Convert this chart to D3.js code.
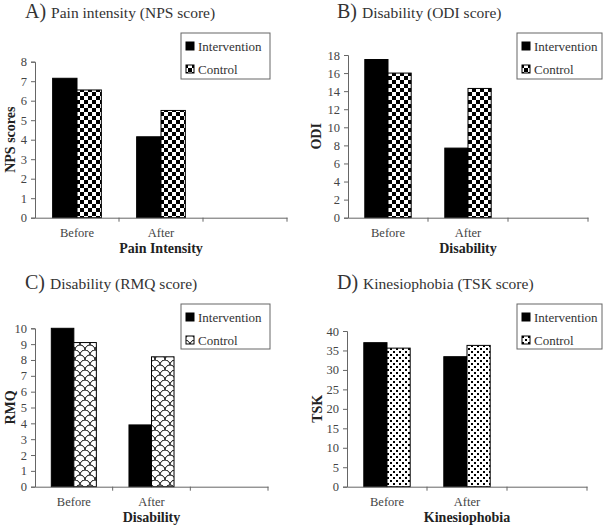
<!DOCTYPE html>
<html><head><meta charset="utf-8">
<script src="https://cdn.jsdelivr.net/npm/d3@7"></script>
<style>body{margin:0;background:#fff}svg{display:block}</style>
</head><body>
<svg id="c" width="610" height="527"></svg>
<script>
const categories = ["Before", "After", ""];
const seriesNames = ["Intervention", "Control"];
const npsValues = [[7.15, 4.15], [6.55, 5.5]];
const odiValues = [[17.5, 7.7], [16.0, 14.3]];
const rmqValues = [[10.0, 3.9], [9.1, 8.2]];
const tskValues = [[37.0, 33.4], [35.6, 36.3]];
const npsTicks = [0,1,2,3,4,5,6,7,8];
const odiTicks = [0,2,4,6,8,10,12,14,16,18];
const rmqTicks = [0,1,2,3,4,5,6,7,8,9,10];
const tskTicks = [0,5,10,15,20,25,30,35,40];
const titles = [["A)", "Pain intensity (NPS score)"], ["B)", "Disability (ODI score)"], ["C)", "Disability (RMQ score)"], ["D)", "Kinesiophobia (TSK score)"]];
const yLabels = ["NPS scores", "ODI", "RMQ", "TSK"];
const xLabels = ["Pain Intensity", "Disability", "Disability", "Kinesiophobia"];

const FONT = "'Liberation Serif', 'Times New Roman', serif";
const svg = d3.select("#c");
const defs = svg.append("defs");
// checker
const pc = defs.append("pattern").attr("id","checker").attr("patternUnits","userSpaceOnUse").attr("width",8).attr("height",8);
pc.append("rect").attr("width",8).attr("height",8).attr("fill","#fff");
pc.append("rect").attr("width",4).attr("height",4).attr("fill","#000");
pc.append("rect").attr("x",4).attr("y",4).attr("width",4).attr("height",4).attr("fill","#000");
// scales
const ps = defs.append("pattern").attr("id","scale").attr("patternUnits","userSpaceOnUse").attr("width",10).attr("height",10);
ps.append("rect").attr("width",10).attr("height",10).attr("fill","#fff");
ps.append("path").attr("d","M0,5 A5,5 0 0 1 10,5 M-5,10 A5,5 0 0 1 5,10 M5,10 A5,5 0 0 1 15,10 M-5,0 A5,5 0 0 1 5,0 M5,0 A5,5 0 0 1 15,0")
  .attr("fill","none").attr("stroke","#000").attr("stroke-width",1);
// dots
const pd = defs.append("pattern").attr("id","dots").attr("patternUnits","userSpaceOnUse").attr("width",6).attr("height",6);
pd.append("rect").attr("width",6).attr("height",6).attr("fill","#fff");
pd.append("rect").attr("x",0).attr("y",0).attr("width",2).attr("height",2).attr("fill","#000");
pd.append("rect").attr("x",3).attr("y",3).attr("width",2).attr("height",2).attr("fill","#000");

const panels = [
  {values: npsValues, ticks: npsTicks, ymax: 8, pat: "checker", L: 35, R: 287, T: 61.7, B: 217.7, ox: 0, oy: 0, ylx: 10, box: [181, 33, 270, 79]},
  {values: odiValues, ticks: odiTicks, ymax: 18, pat: "checker", L: 348, R: 588, T: 55, B: 217.7, ox: 305, oy: 0, ylx: 316, box: [517, 33, 602, 79]},
  {values: rmqValues, ticks: rmqTicks, ymax: 10, pat: "scale", L: 35, R: 268, T: 328.3, B: 486.7, ox: 0, oy: 260, ylx: 10, box: [181, 304, 270, 349]},
  {values: tskValues, ticks: tskTicks, ymax: 40, pat: "dots", L: 347, R: 587, T: 331, B: 486.7, ox: 305, oy: 260, ylx: 317, box: [517, 304, 602, 349]}
];

panels.forEach((p, i) => {
  const g = svg.append("g");
  const x = d3.scaleBand().domain(categories).range([p.L, p.R]).padding(0);
  const x1 = d3.scaleBand().domain(seriesNames).range([x.bandwidth()*0.21, x.bandwidth()*0.79]).padding(0);
  const y = d3.scaleLinear().domain([0, p.ymax]).range([p.B, p.T]);

  // title
  const t = g.append("text").attr("x", p.ox + (i % 2 ? 32 : 25)).attr("y", p.oy + 18 + (i >= 2 ? 11 : 0))
    .attr("font-family", FONT).attr("fill", "#333");
  t.append("tspan").attr("font-size", 20).text(titles[i][0] + " ");
  t.append("tspan").attr("font-size", 15.5).text(titles[i][1]);

  // bars
  seriesNames.forEach((s, si) => {
    g.selectAll(null).data(categories.slice(0, 2)).enter().append("rect")
      .attr("x", d => x(d) + x1(s))
      .attr("y", (d, ci) => y(p.values[si][ci]))
      .attr("width", x1.bandwidth())
      .attr("height", (d, ci) => y(0) - y(p.values[si][ci]))
      .attr("fill", si === 0 ? "#000" : `url(#${p.pat})`)
      .attr("stroke", "#000").attr("stroke-width", 1);
  });

  // y axis
  const ya = g.append("g").attr("transform", `translate(${p.L},0)`)
    .call(d3.axisLeft(y).tickValues(p.ticks).tickSize(4).tickPadding(4).tickFormat(d3.format("d")));
  ya.select(".domain").attr("stroke", "#666");
  ya.selectAll(".tick line").attr("stroke", "#666");
  ya.selectAll("text").attr("font-family", FONT).attr("font-size", 12.5).attr("fill", "#444");

  // x axis
  const xa = g.append("g").attr("transform", `translate(0,${p.B})`)
    .call(d3.axisBottom(x).tickSize(0).tickPadding(10));
  xa.select(".domain").attr("stroke", "#666");
  xa.selectAll("text").attr("font-family", FONT).attr("font-size", 12.5).attr("fill", "#444");
  categories.forEach(c => {
    xa.append("line").attr("x1", x(c) + x.bandwidth()).attr("x2", x(c) + x.bandwidth())
      .attr("y1", 0).attr("y2", 4).attr("stroke", "#666");
  });

  // axis titles
  g.append("text").attr("x", x("After") + x.bandwidth()/2).attr("y", p.B + 35)
    .attr("text-anchor", "middle").attr("font-family", FONT).attr("font-weight", "bold")
    .attr("font-size", 14).attr("fill", "#222").text(xLabels[i]);
  g.append("text").attr("transform", `translate(${p.ylx + 5},${(p.T + p.B)/2}) rotate(-90)`)
    .attr("text-anchor", "middle").attr("font-family", FONT).attr("font-weight", "bold")
    .attr("font-size", 14).attr("fill", "#222").text(yLabels[i]);

  // legend
  const [bx0, by0, bx1, by1] = p.box;
  g.append("rect").attr("x", bx0).attr("y", by0).attr("width", bx1 - bx0).attr("height", by1 - by0)
    .attr("fill", "#fff").attr("stroke", "#666").attr("stroke-width", 1);
  seriesNames.forEach((s, si) => {
    const cy = by0 + 13 + si * 23;
    g.append("rect").attr("x", bx0 + 5).attr("y", cy - 4).attr("width", 8).attr("height", 8)
      .attr("fill", si === 0 ? "#000" : `url(#${p.pat})`).attr("stroke", "#000");
    g.append("text").attr("x", bx0 + 17).attr("y", cy + 4.5)
      .attr("font-family", FONT).attr("font-size", 13).attr("fill", "#333").text(s);
  });
});
</script>
</body></html>
